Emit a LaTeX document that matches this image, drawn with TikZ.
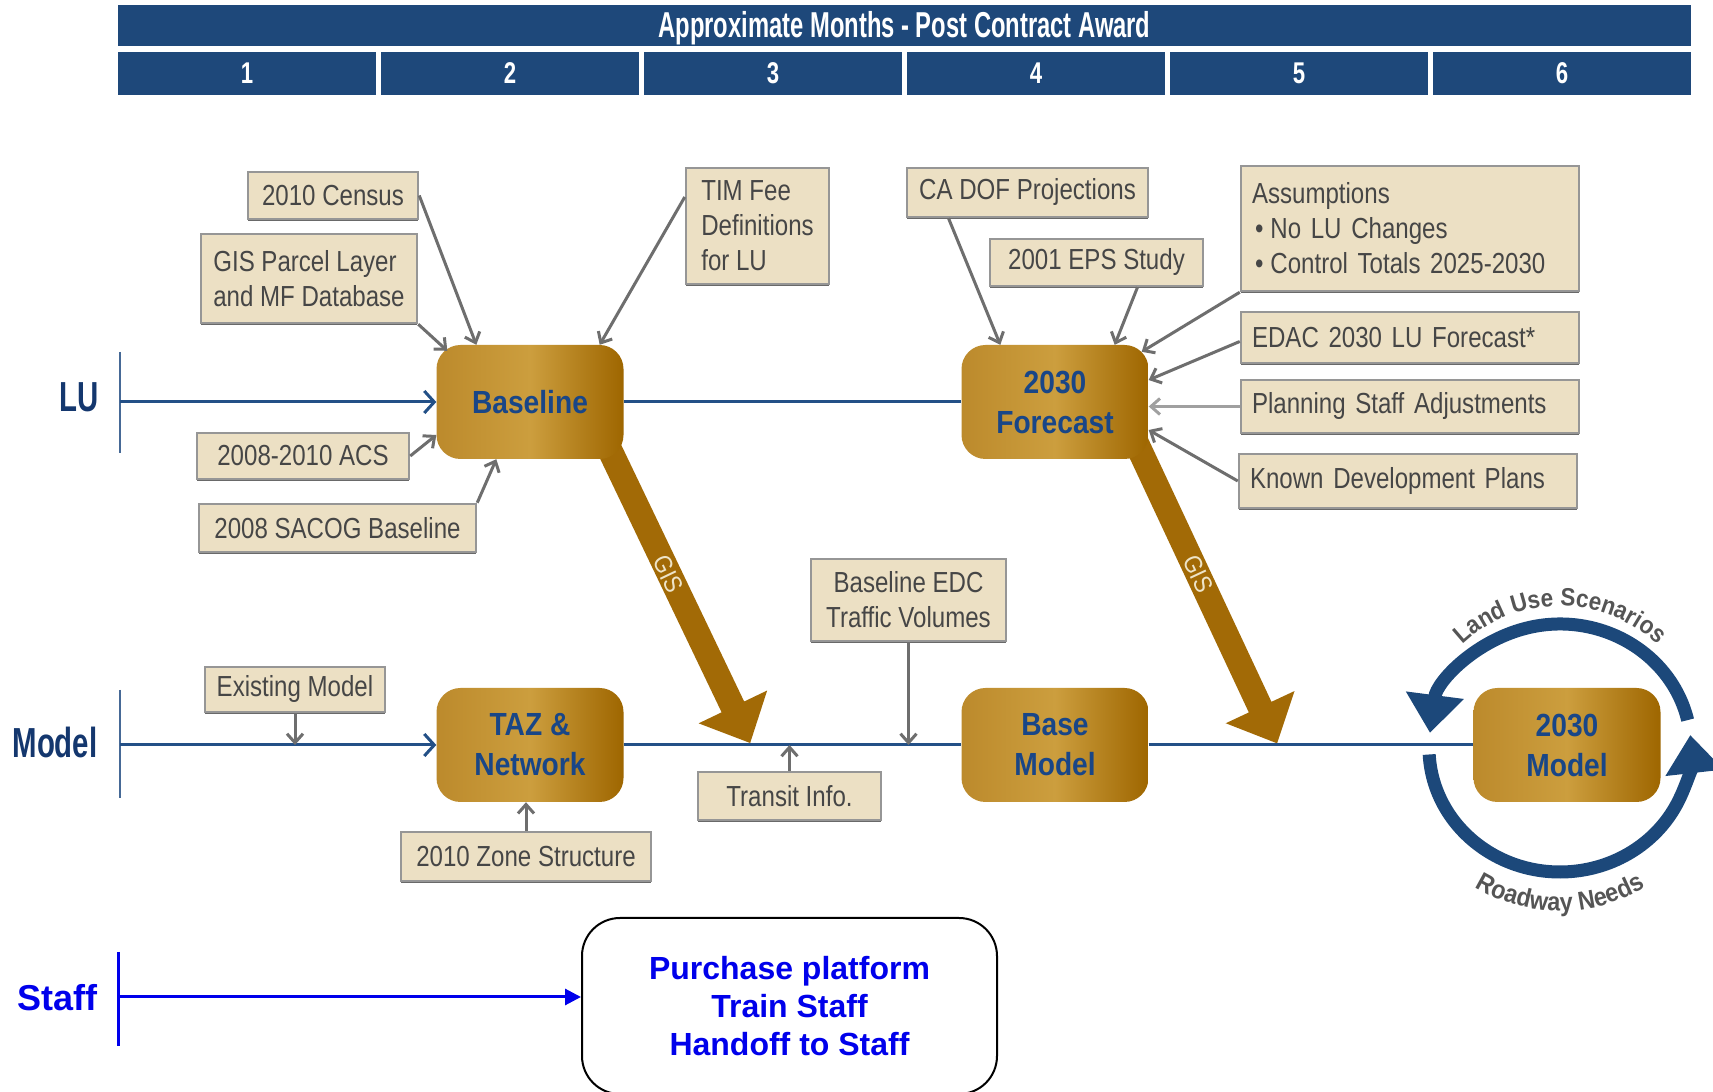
\documentclass[tikz,border=0pt]{standalone}
\usepackage{fontspec}
\setmainfont{Liberation Sans}
\newfontfamily\inpfont{Liberation Sans}[FakeStretch=0.83]
\newfontfamily\bxfont{Liberation Sans}[FakeStretch=0.88]
\newfontfamily\hdrfont{Liberation Sans}[FakeStretch=0.66]
\newfontfamily\numfont{Liberation Sans}[FakeStretch=0.74]
\newfontfamily\lblfont{Liberation Sans}[FakeStretch=0.7]
\newfontfamily\ringfont{Liberation Sans}[FakeStretch=0.9]
\usetikzlibrary{arrows.meta,calc,decorations.text,shadows}
\definecolor{hdrblue}{RGB}{30,72,122}
\definecolor{lineblue}{RGB}{35,80,135}
\definecolor{vlineblue}{RGB}{70,105,150}
\definecolor{txtblue}{RGB}{25,70,135}
\definecolor{lbltblue}{RGB}{20,55,110}
\definecolor{goldL}{RGB}{188,138,44}
\definecolor{goldM}{RGB}{204,158,62}
\definecolor{goldR}{RGB}{158,102,0}
\definecolor{gisgold}{RGB}{162,106,6}
\definecolor{gistext}{RGB}{238,228,200}
\definecolor{inpfill}{RGB}{236,224,196}
\definecolor{inpdraw}{RGB}{150,150,150}
\definecolor{inpshadow}{RGB}{105,105,105}
\definecolor{inptext}{RGB}{70,70,70}
\definecolor{conngray}{RGB}{110,110,110}
\definecolor{connlight}{RGB}{160,160,160}
\definecolor{staffblue}{RGB}{0,0,235}
\definecolor{ringblue}{RGB}{28,72,122}
\definecolor{ringtext}{RGB}{85,85,85}
\tikzset{
  hdr/.style={fill=hdrblue, inner sep=0pt, text=white},
  monthbox/.style={hdr, minimum width=258pt, minimum height=43pt,
    font=\numfont\bfseries\fontsize{30}{30}\selectfont},
  goldbox/.style={rounded corners=24pt, left color=goldL, right color=goldR, middle color=goldM,
    minimum width=187pt, minimum height=114pt, text=txtblue, align=center,
    font=\bxfont\bfseries\fontsize{32}{40}\selectfont, inner sep=0pt},
  inbox/.style={fill=inpfill, draw=inpdraw, line width=2.5pt, text=inptext, inner sep=0pt,
    align=center, font=\inpfont\fontsize{29}{35}\selectfont,
    drop shadow={shadow xshift=0pt, shadow yshift=-2.5pt, fill=inpshadow, opacity=1}},
  inboxl/.style={inbox, align=left, inner xsep=11pt},
  blueln/.style={draw=lineblue, line width=3pt},
  vln/.style={draw=vlineblue, line width=2pt},
  bluearr/.style={blueln, -{Straight Barb[length=10pt,width=22pt]}},
  conn/.style={draw=conngray, line width=3pt, -{Straight Barb[length=9pt,width=16pt]}},
  connl/.style={conn, draw=connlight},
  lbl/.style={text=lbltblue, font=\lblfont\bfseries\fontsize{42}{42}\selectfont, inner sep=0pt},
  gislbl/.style={text=gistext, font=\bxfont\fontsize{25}{25}\selectfont, inner sep=0pt},
  staffln/.style={draw=staffblue, line width=3pt},
  ringarr/.style={draw=ringblue, line width=13pt, -{Triangle[length=38pt,width=56pt]}},
}
\begin{document}
\begin{tikzpicture}[x=1pt,y=1pt]
\useasboundingbox (0,0) rectangle (1713,1092);
\fill[white] (0,0) rectangle (1713,1092);

% header
\node[hdr, minimum width=1573pt, minimum height=41pt] (title) at (904.5,1066.5) {};
\node[text=white, inner sep=0pt, font=\hdrfont\bfseries\fontsize{36}{36}\selectfont]
  (titletext) at (904.5,1064) {Approximate Months - Post Contract Award};
\foreach \i in {1,...,6} {
  \node[monthbox] (mon\i) at ({247+(\i-1)*263},1018.5) {\i};
}

% GIS arrows (behind boxes)
\begin{scope}[shift={(605,652)}, rotate=-64.4]
  \fill[gisgold] (0,-12.5) -- (296,-12.5) -- (296,-38) -- (336,0) -- (296,38) -- (296,12.5) -- (0,12.5) -- cycle;
\end{scope}
\begin{scope}[shift={(1135,652)}, rotate=-64.9]
  \fill[gisgold] (0,-12.5) -- (295,-12.5) -- (295,-38) -- (335,0) -- (295,38) -- (295,12.5) -- (0,12.5) -- cycle;
\end{scope}
\node[gislbl, rotate=-64.4] (gis1) at (668,518) {GIS};
\node[gislbl, rotate=-64.9] (gis2) at (1198,518) {GIS};

% gold boxes
\node[goldbox] (baseline) at (530,690) {Baseline};
\node[goldbox] (forecast) at (1055,690) {2030\\Forecast};
\node[goldbox] (taz) at (530,347) {TAZ \&\\Network};
\node[goldbox] (basemodel) at (1055,347) {Base\\Model};
\node[goldbox] (m2030) at (1567,347) {2030\\Model};

% row labels and lines
\node[lbl] (lulbl) at (79,695) {LU};
\node[lbl] (mdlbl) at (55,350) {Model};
\coordinate (luT) at (120,740);
\coordinate (luB) at (120,639);
\coordinate (lu0) at (120,690);
\coordinate (mdT) at (120,402);
\coordinate (mdB) at (120,294);
\coordinate (md0) at (120,347);
\draw[vln] (luT) -- (luB);
\draw[vln] (mdT) -- (mdB);
\draw[bluearr] (lu0) -- (baseline.west);
\draw[blueln] (baseline.east) -- (forecast.west);
\draw[bluearr] (md0) -- (taz.west);
\draw[blueln] (taz.east) -- (basemodel.west);
\draw[blueln] (basemodel.east) -- (m2030.west);

% LU inputs for Baseline
\node[inbox, minimum width=170pt, minimum height=47pt] (census) at (333,896.5) {2010 Census};
\node[inbox, align=left, minimum width=216pt, minimum height=89pt] (gisp) at (309,813.5) {GIS Parcel Layer\\and MF Database};
\node[inbox, align=left, minimum width=143pt, minimum height=116pt] (tim) at (757.5,866) {TIM Fee\\Definitions\\for LU};
\node[inbox, minimum width=212pt, minimum height=46pt] (acs) at (303,636) {2008-2010 ACS};
\node[inbox, minimum width=277pt, minimum height=48pt] (sacog) at (337.5,564) {2008 SACOG Baseline};

\draw[conn] (census.east) -- ($(baseline.north west)+(40,0)$);
\draw[conn] (gisp.south east) -- ($(baseline.north west)+(11,-6)$);
\draw[conn] ($(tim.west)+(0,29)$) -- ($(baseline.north east)+(-24,0)$);
\draw[conn] (acs.east) -- ($(baseline.west)+(0,-33)$);
\draw[conn] (sacog.north east) -- ($(baseline.south west)+(60,0)$);

% LU inputs for Forecast
\node[inbox, minimum width=241pt, minimum height=49pt] (cadof) at (1027.5,899.5) {CA DOF Projections};
\node[inbox, minimum width=213pt, minimum height=47pt] (eps) at (1096.5,829.5) {2001 EPS Study};
\node[inboxl, text width=316pt, minimum height=125pt] (assump) at (1410,863.5)
  {Assumptions\\\hspace*{3pt}\textbullet\hspace{7pt}No LU Changes\\\hspace*{3pt}\textbullet\hspace{7pt}Control Totals 2025-2030};
\node[inboxl, text width=316pt, minimum height=51pt] (edac) at (1410,754.5) {EDAC 2030 LU Forecast*};
\node[inboxl, text width=316pt, minimum height=53pt] (planning) at (1410,685.5) {Planning Staff Adjustments};
\node[inboxl, text width=316pt, minimum height=54pt] (known) at (1408,611) {Known Development Plans};

\draw[conn] ($(cadof.south)+(-79,0)$) -- ($(forecast.north west)+(39,0)$);
\draw[conn] ($(eps.south)+(41,0)$) -- ($(forecast.north east)+(-34,0)$);
\draw[conn] (assump.south west) -- ($(forecast.north east)+(-7,-7)$);
\draw[conn] ($(edac.west)+(0,-4)$) -- ($(forecast.east)+(0,22)$);
\draw[connl] (planning.west) -- (planning.west -| forecast.east);
\draw[conn] (known.west) -- ($(forecast.east)+(0,-28)$);

% Model inputs
\node[inbox, minimum width=180pt, minimum height=45pt] (existing) at (295,402.5) {Existing Model};
\node[inbox, minimum width=250pt, minimum height=49pt] (zone) at (526,235.5) {2010 Zone Structure};
\node[inbox, minimum width=183pt, minimum height=48pt] (transit) at (789.5,296) {Transit Info.};
\node[inbox, minimum width=195pt, minimum height=82pt] (edc) at (908.5,492) {Baseline EDC\\Traffic Volumes};

\draw[conn] (existing.south) -- (existing.south |- md0);
\draw[conn] (zone.north) -- (zone.north |- taz.south);
\draw[conn] (transit.north) -- (transit.north |- md0);
\draw[conn] (edc.south) -- (edc.south |- md0);

% ring around 2030 Model
\coordinate (rc) at (1560,344);
\draw[ringarr] ($(rc)+(13:131pt and 124pt)$) arc[start angle=13, end angle=173, x radius=131pt, y radius=124pt];
\draw[ringarr] ($(rc)+(183:131pt and 124pt)$) arc[start angle=183, end angle=366, x radius=131pt, y radius=124pt];
\path[decorate, decoration={text along path, text align=center, text color=ringtext,
  text={|\ringfont\bfseries\fontsize{25}{25}\selectfont|Land Use Scenarios}}]
  ($(rc)+(150:142pt)$) arc[start angle=150, end angle=30, radius=142pt];
\path[decorate, decoration={text along path, text align=center, text color=ringtext,
  text={|\ringfont\bfseries\fontsize{26}{26}\selectfont|Roadway Needs}}]
  ($(rc)+(228:163pt)$) arc[start angle=228, end angle=312, radius=163pt];

% Staff row
\node[text=staffblue, font=\bfseries\fontsize{36}{36}\selectfont, inner sep=0pt] (stlbl) at (57,94) {Staff};
\coordinate (stT) at (118,140);
\coordinate (stB) at (118,46);
\coordinate (st0) at (118,95);
\node[draw=black, line width=2pt, rounded corners=38pt, minimum width=415pt, minimum height=176pt,
  text=staffblue, align=center, font=\bfseries\fontsize{32}{38}\selectfont, inner sep=0pt]
  (staffbox) at (789.5,86) {Purchase platform\\Train Staff\\Handoff to Staff};
\draw[staffln] (stT) -- (stB);
\draw[staffln, -{Triangle[length=16pt,width=16pt]}] (st0) -- (st0 -| staffbox.west);
\end{tikzpicture}
\end{document}
